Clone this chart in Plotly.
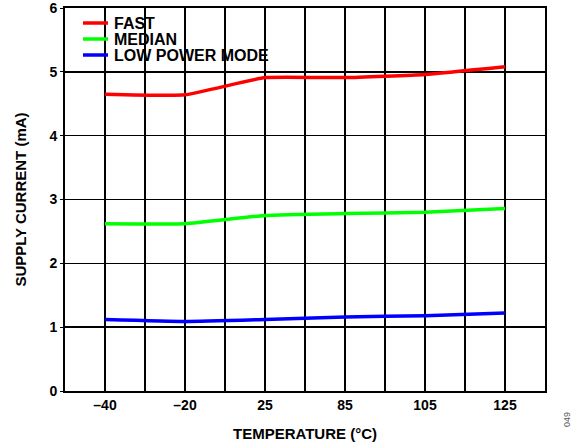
import plotly.graph_objects as go

TEMPS = ["–40", "–20", "25", "85", "105", "125"]
FAST = [4.65, 4.64, 4.91, 4.91, 4.96, 5.08]
MEDIAN = [2.62, 2.62, 2.75, 2.78, 2.80, 2.86]
LOW_POWER = [1.12, 1.09, 1.12, 1.16, 1.18, 1.22]
SERIES = [("FAST", FAST, "#ff0000"), ("MEDIAN", MEDIAN, "#00ff00"),
          ("LOW POWER MODE", LOW_POWER, "#0000ff")]
Y_TICKS = [0, 1, 2, 3, 4, 5, 6]

FONT = "Arial, Liberation Sans, Helvetica, sans-serif"
xi = list(range(len(TEMPS)))

fig = go.Figure()
for name, vals, col in SERIES:
    fig.add_trace(go.Scatter(x=xi, y=vals, name=name, mode="lines", showlegend=False,
                             line=dict(color=col, width=3.5, shape="spline", smoothing=0.4)))

tickvals = []
ticktext = []
for i, t in enumerate(TEMPS):
    tickvals += [i - 0.5, i]
    ticktext += ["", t]
tickvals.append(len(TEMPS) - 0.5)
ticktext.append("")

# manual legend (paper coords)
PL, PR, PT, PB = 65, 545, 8, 391
W, H = PR - PL, PB - PT
def px(x):
    return (x - PL) / W
def py(y):
    return (PB - y) / H

annotations = []
shapes = []
for k, (name, _, col) in enumerate(SERIES):
    yy = 23 + 16 * k
    shapes.append(dict(type="line", xref="paper", yref="paper",
                       x0=px(83), x1=px(108), y0=py(yy), y1=py(yy),
                       line=dict(color=col, width=3.5)))
    annotations.append(dict(text=name, xref="paper", yref="paper", x=px(112), y=py(yy + 0.5),
                            xanchor="left", yanchor="middle", showarrow=False,
                            font=dict(size=16, weight="bold", color="black")))

annotations.append(dict(text="049", xref="paper", yref="paper", x=px(567), y=py(420),
                        xanchor="center", yanchor="middle",
                        showarrow=False, textangle=-90,
                        font=dict(size=9, color="#555555", weight="normal")))

fig.update_layout(
    width=584, height=446,
    margin=dict(l=PL, r=584 - PR, t=PT, b=446 - PB, autoexpand=False),
    paper_bgcolor="white", plot_bgcolor="white",
    font=dict(family=FONT, color="black", size=14, weight="bold"),
    showlegend=False,
    xaxis=dict(range=[-0.5, len(TEMPS) - 0.5], tickmode="array",
               tickvals=tickvals, ticktext=ticktext, ticklabeloverflow="allow",
               showgrid=True, gridcolor="black", gridwidth=1.5,
               showline=True, linecolor="black", linewidth=2, mirror=True,
               ticks="", zeroline=False,
               tickfont=dict(size=14, weight="bold"),
               title=dict(text="TEMPERATURE (°C)", font=dict(size=15, weight="bold"), standoff=17)),
    yaxis=dict(range=[0, 6], tickmode="array", tickvals=Y_TICKS, ticklabeloverflow="allow",
               showgrid=True, gridcolor="black", gridwidth=1.5,
               showline=True, linecolor="black", linewidth=2, mirror=True,
               ticks="outside", ticklen=3, tickcolor="black", zeroline=False,
               tickfont=dict(size=14, weight="bold"),
               title=dict(text="SUPPLY CURRENT (mA)", font=dict(size=15, weight="bold"), standoff=19)),
    shapes=shapes,
    annotations=annotations,
)

fig.write_html("out.html", config={"displayModeBar": False, "staticPlot": True},
               post_script="document.body.style.margin='0';document.body.style.overflow='hidden';")
